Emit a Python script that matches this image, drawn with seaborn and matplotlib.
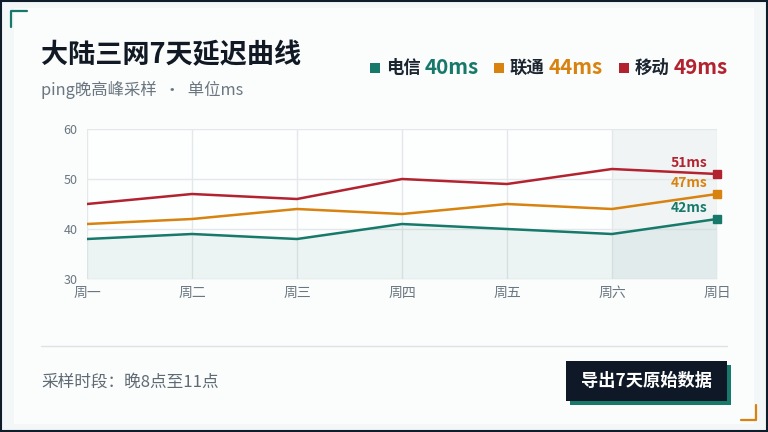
import pandas as pd
import matplotlib
matplotlib.use("Agg")
import matplotlib.pyplot as plt
from matplotlib.patches import Rectangle
from matplotlib.lines import Line2D
import seaborn as sns

# 7天晚高峰延迟 (ms)
days = ["周一", "周二", "周三", "周四", "周五", "周六", "周日"]
dianxin = [38, 39, 38, 41, 40, 39, 42]
liantong = [41, 42, 44, 43, 45, 44, 47]
yidong = [45, 47, 46, 50, 49, 52, 51]
carriers = ["电信", "联通", "移动"]
averages = ["40ms", "44ms", "49ms"]
y_ticks = [30, 40, 50, 60]

colors = {"电信": "#17796a", "联通": "#d8820f", "移动": "#b3222f"}

df = pd.DataFrame({
    "day": list(range(len(days))) * 3,
    "ms": dianxin + liantong + yidong,
    "carrier": ["电信"] * 7 + ["联通"] * 7 + ["移动"] * 7,
})

sns.set_theme(style="white")
plt.rcParams["font.family"] = ["Noto Sans CJK SC", "DejaVu Sans"]

W, H = 768, 432
fig = plt.figure(figsize=(W / 100, H / 100), dpi=100)
fig.patch.set_facecolor("#f4f7f8")


def fx(x):
    return x / W


def fy(y):
    return 1 - y / H


# card + frame
fig.patches.append(Rectangle((fx(14), fy(424)), fx(740), 416 / H, transform=fig.transFigure,
                             facecolor="#fbfcfc", edgecolor="none", zorder=-5))
fig.patches.append(Rectangle((0.001, 0.002), 0.998, 0.996, transform=fig.transFigure,
                             facecolor="none", edgecolor="#0f1d2b", lw=1.5, zorder=5))
# corner brackets
fig.add_artist(Line2D([fx(11), fx(11), fx(27)], [fy(27), fy(11), fy(11)], transform=fig.transFigure,
                      color="#17796a", lw=1.6))
fig.add_artist(Line2D([fx(741), fx(756), fx(756)], [fy(420), fy(420), fy(405)], transform=fig.transFigure,
                      color="#d8820f", lw=1.6))

# header
fig.text(fx(41), fy(55), "大陆三网7天延迟曲线", fontsize=19.5, fontweight="bold", color="#111a24", va="center")
fig.text(fx(41), fy(90), "ping晚高峰采样  ·  单位ms", fontsize=11.8, color="#6b7780", va="center")

legend_x = [370, 494, 619]
for c, avg, lx in zip(carriers, averages, legend_x):
    fig.patches.append(Rectangle((fx(lx), fy(73)), 10 / W, 10 / H, transform=fig.transFigure,
                                 facecolor=colors[c], edgecolor="none"))
    fig.text(fx(lx + 16), fy(68), c, fontsize=12.5, fontweight="bold", color="#1b2530", va="center")
    fig.text(fx(lx + 55), fy(68), avg, fontsize=14.8, fontweight="bold", color=colors[c], va="center")

# chart
ax = fig.add_axes([fx(87), fy(279), 630 / W, 150 / H])
ax.set_facecolor("#fdfefe")
ax.axvspan(5, 6, color="#e4e9eb", alpha=0.45, zorder=0, lw=0)
ax.fill_between(range(len(days)), dianxin, 30, color="#17796a", alpha=0.07, lw=0, zorder=1)
sns.lineplot(data=df, x="day", y="ms", hue="carrier", palette=colors, lw=1.8, ax=ax, legend=False, zorder=3)

for c, vals in zip(carriers, [dianxin, liantong, yidong]):
    ax.plot(len(days) - 1, vals[-1], marker="s", ms=5.5, color=colors[c], clip_on=False, zorder=4)
    ax.annotate(f"{vals[-1]}ms", (len(days) - 1, vals[-1]), xytext=(-7, 8), textcoords="offset points",
                ha="right", va="center", fontsize=10, fontweight="bold", color=colors[c])

ax.set_xlim(0, 6)
ax.set_ylim(30, 60)
ax.set_xticks(range(len(days)))
ax.set_xticklabels(days)
ax.set_yticks(y_ticks)
ax.grid(True, color="#e3e8ea", lw=1)
ax.set_axisbelow(True)
for s in ax.spines.values():
    s.set_visible(False)
ax.tick_params(axis="both", length=0, colors="#6b7780", labelsize=10)
ax.tick_params(axis="y", labelsize=9, pad=7)
ax.tick_params(axis="x", pad=5)
ax.set_xlabel("")
ax.set_ylabel("")

# footer
fig.add_artist(Line2D([fx(41), fx(727)], [fy(346), fy(346)], transform=fig.transFigure, color="#dde2e5", lw=1))
fig.text(fx(41), fy(382), "采样时段：晚8点至11点", fontsize=12, color="#5f6b74", va="center")
fig.patches.append(Rectangle((fx(570), fy(405)), 161 / W, 40 / H, transform=fig.transFigure,
                             facecolor="#17796a", edgecolor="none"))
fig.patches.append(Rectangle((fx(566), fy(401)), 161 / W, 40 / H, transform=fig.transFigure,
                             facecolor="#0f1826", edgecolor="none"))
fig.text(fx(646.5), fy(381), "导出7天原始数据", fontsize=12.4, fontweight="bold", color="white",
         ha="center", va="center")

fig.savefig("out.png", dpi=100, facecolor=fig.get_facecolor())
